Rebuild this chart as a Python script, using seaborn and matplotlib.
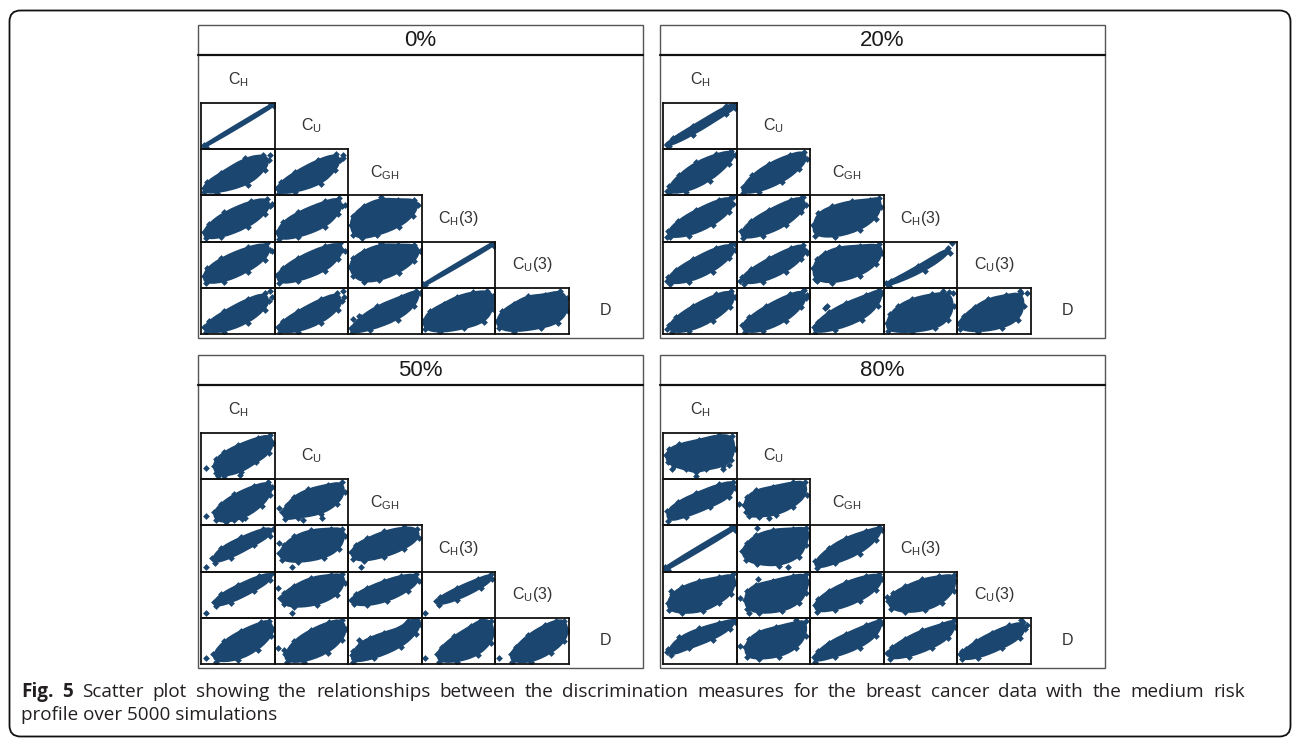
import matplotlib
matplotlib.use("Agg")
import matplotlib.pyplot as plt
import seaborn as sns
from matplotlib.patches import FancyBboxPatch, Rectangle, PathPatch
from matplotlib.path import Path

# ---------------------------------------------------------------------------
# Data: discrimination measures compared pairwise, one scatter matrix per
# censoring level.  Each point cloud of 5000 simulations is stored as the
# outline of its dense core (normalised to the panel's data range) plus the
# isolated points lying outside that core.
# ---------------------------------------------------------------------------
PANELS = ["0%", "20%", "50%", "80%"]
MEASURES = [r"$\mathregular{C_H}$", r"$\mathregular{C_U}$", r"$\mathregular{C_{GH}}$",
            r"$\mathregular{C_H(3)}$", r"$\mathregular{C_U(3)}$", "D"]

hull_0 = {
    (1, 0): [(0.03, 0.06), (0.06, 0.05), (0.99, 0.93), (0.98, 0.98), (0.95, 0.97), (0.03, 0.09)],
    (2, 0): [(0.03, 0.16), (0.04, 0.07), (0.22, 0.06), (0.63, 0.23), (0.86, 0.54), (0.92, 0.76), (0.84, 0.88), (0.59, 0.80), (0.27, 0.49), (0.08, 0.29)],
    (2, 1): [(0.03, 0.15), (0.06, 0.05), (0.27, 0.07), (0.63, 0.25), (0.82, 0.54), (0.89, 0.76), (0.83, 0.89), (0.59, 0.77), (0.27, 0.50), (0.08, 0.28)],
    (3, 0): [(0.03, 0.21), (0.06, 0.07), (0.27, 0.09), (0.63, 0.31), (0.86, 0.59), (0.93, 0.78), (0.89, 0.93), (0.68, 0.88), (0.31, 0.63), (0.11, 0.39)],
    (3, 1): [(0.03, 0.21), (0.06, 0.05), (0.31, 0.09), (0.68, 0.31), (0.86, 0.59), (0.91, 0.78), (0.87, 0.94), (0.68, 0.87), (0.31, 0.63), (0.11, 0.42)],
    (3, 2): [(0.03, 0.36), (0.07, 0.15), (0.19, 0.07), (0.39, 0.14), (0.69, 0.32), (0.88, 0.56), (0.95, 0.80), (0.90, 0.91), (0.67, 0.91), (0.44, 0.93), (0.21, 0.78), (0.06, 0.56)],
    (4, 0): [(0.03, 0.25), (0.06, 0.10), (0.31, 0.13), (0.63, 0.35), (0.86, 0.61), (0.93, 0.81), (0.89, 0.96), (0.63, 0.88), (0.27, 0.64), (0.08, 0.42)],
    (4, 1): [(0.03, 0.28), (0.06, 0.10), (0.31, 0.14), (0.68, 0.36), (0.86, 0.62), (0.92, 0.81), (0.89, 0.96), (0.68, 0.91), (0.31, 0.65), (0.11, 0.43)],
    (4, 2): [(0.02, 0.45), (0.07, 0.25), (0.21, 0.13), (0.42, 0.16), (0.69, 0.33), (0.90, 0.58), (0.97, 0.80), (0.90, 0.93), (0.67, 0.93), (0.44, 0.94), (0.21, 0.80), (0.06, 0.64)],
    (4, 3): [(0.02, 0.06), (0.05, 0.05), (0.98, 0.91), (0.98, 0.97), (0.95, 0.97), (0.02, 0.09)],
    (5, 0): [(0.04, 0.15), (0.07, 0.04), (0.31, 0.05), (0.63, 0.24), (0.86, 0.53), (0.92, 0.72), (0.86, 0.88), (0.63, 0.76), (0.31, 0.49), (0.11, 0.28)],
    (5, 1): [(0.04, 0.15), (0.07, 0.04), (0.31, 0.05), (0.63, 0.24), (0.86, 0.53), (0.91, 0.72), (0.85, 0.88), (0.63, 0.76), (0.31, 0.49), (0.11, 0.28)],
    (5, 2): [(0.03, 0.13), (0.05, 0.02), (0.30, 0.09), (0.67, 0.31), (0.90, 0.60), (0.97, 0.88), (0.92, 0.94), (0.72, 0.81), (0.39, 0.60), (0.17, 0.37)],
    (5, 3): [(0.02, 0.29), (0.05, 0.10), (0.25, 0.04), (0.57, 0.12), (0.85, 0.26), (0.97, 0.54), (0.97, 0.83), (0.89, 0.93), (0.69, 0.90), (0.48, 0.81), (0.30, 0.66), (0.11, 0.50)],
    (5, 4): [(0.02, 0.29), (0.05, 0.12), (0.25, 0.05), (0.62, 0.13), (0.85, 0.24), (0.99, 0.50), (0.97, 0.79), (0.88, 0.93), (0.67, 0.85), (0.44, 0.82), (0.25, 0.66), (0.09, 0.49)],
}
stray_0 = {
    (2, 0): [(0.93, 0.87)],
    (2, 1): [(0.93, 0.88), (0.93, 0.81)],
    (3, 0): [(0.96, 0.81)],
    (3, 1): [(0.96, 0.80)],
    (3, 2): [(0.45, 0.97)],
    (4, 0): [(0.96, 0.80)],
    (4, 1): [(0.95, 0.80)],
    (4, 2): [(0.45, 0.97)],
    (5, 0): [(0.94, 0.93), (0.96, 0.81)],
    (5, 1): [(0.93, 0.93), (0.94, 0.81)],
    (5, 2): [(0.07, 0.32), (0.15, 0.38)],
}

hull_20 = {
    (1, 0): [(0.05, 0.12), (0.08, 0.07), (0.40, 0.31), (0.85, 0.76), (0.98, 0.90), (0.97, 0.98), (0.85, 0.93), (0.40, 0.50), (0.13, 0.24)],
    (2, 0): [(0.08, 0.20), (0.08, 0.05), (0.31, 0.08), (0.63, 0.31), (0.90, 0.69), (0.97, 0.88), (0.92, 0.96), (0.72, 0.89), (0.45, 0.72), (0.22, 0.45)],
    (2, 1): [(0.08, 0.18), (0.08, 0.05), (0.30, 0.08), (0.62, 0.29), (0.85, 0.57), (0.95, 0.78), (0.91, 0.95), (0.72, 0.88), (0.44, 0.69), (0.21, 0.44)],
    (3, 0): [(0.06, 0.22), (0.09, 0.09), (0.35, 0.13), (0.67, 0.35), (0.90, 0.64), (0.95, 0.82), (0.91, 0.95), (0.76, 0.91), (0.45, 0.69), (0.20, 0.45)],
    (3, 1): [(0.06, 0.22), (0.08, 0.07), (0.35, 0.13), (0.67, 0.35), (0.88, 0.64), (0.94, 0.80), (0.88, 0.95), (0.74, 0.91), (0.44, 0.69), (0.19, 0.45)],
    (3, 2): [(0.04, 0.36), (0.06, 0.13), (0.34, 0.10), (0.67, 0.25), (0.89, 0.50), (0.96, 0.74), (0.94, 0.95), (0.81, 0.91), (0.57, 0.88), (0.30, 0.77), (0.11, 0.62)],
    (4, 0): [(0.07, 0.23), (0.09, 0.09), (0.35, 0.13), (0.67, 0.35), (0.90, 0.64), (0.97, 0.81), (0.92, 0.94), (0.72, 0.87), (0.40, 0.62), (0.17, 0.39)],
    (4, 1): [(0.07, 0.23), (0.10, 0.09), (0.35, 0.13), (0.67, 0.35), (0.88, 0.62), (0.94, 0.80), (0.90, 0.93), (0.74, 0.87), (0.44, 0.64), (0.19, 0.40)],
    (4, 2): [(0.04, 0.42), (0.06, 0.18), (0.30, 0.10), (0.67, 0.26), (0.90, 0.51), (0.98, 0.76), (0.94, 0.94), (0.67, 0.91), (0.39, 0.88), (0.20, 0.76), (0.09, 0.62)],
    (4, 3): [(0.03, 0.10), (0.07, 0.04), (0.56, 0.37), (0.90, 0.76), (0.88, 0.87), (0.47, 0.47), (0.10, 0.15)],
    (5, 0): [(0.08, 0.19), (0.12, 0.04), (0.35, 0.06), (0.67, 0.28), (0.91, 0.58), (0.97, 0.80), (0.92, 0.93), (0.72, 0.86), (0.40, 0.61), (0.17, 0.36)],
    (5, 1): [(0.07, 0.19), (0.11, 0.04), (0.35, 0.06), (0.67, 0.28), (0.88, 0.58), (0.94, 0.79), (0.90, 0.93), (0.72, 0.86), (0.40, 0.61), (0.17, 0.36)],
    (5, 2): [(0.05, 0.15), (0.06, 0.03), (0.34, 0.09), (0.71, 0.31), (0.92, 0.61), (0.98, 0.89), (0.94, 0.96), (0.76, 0.84), (0.48, 0.67), (0.25, 0.47), (0.10, 0.27)],
    (5, 3): [(0.04, 0.24), (0.06, 0.06), (0.38, 0.04), (0.70, 0.12), (0.88, 0.31), (0.95, 0.61), (0.89, 0.90), (0.65, 0.86), (0.38, 0.76), (0.20, 0.61), (0.09, 0.43)],
    (5, 4): [(0.02, 0.24), (0.04, 0.10), (0.28, 0.05), (0.61, 0.13), (0.83, 0.31), (0.91, 0.61), (0.87, 0.89), (0.66, 0.84), (0.42, 0.76), (0.24, 0.59), (0.09, 0.39)],
}
stray_20 = {
    (1, 0): [(0.05, 0.09)],
    (2, 0): [(0.05, 0.10)],
    (3, 0): [(0.95, 0.96), (0.05, 0.11)],
    (3, 1): [(0.90, 0.97)],
    (4, 0): [(0.05, 0.14), (0.98, 0.95)],
    (4, 1): [(0.05, 0.14), (0.95, 0.76)],
    (4, 2): [(0.09, 0.14)],
    (4, 3): [(0.93, 0.96)],
    (5, 0): [(0.05, 0.10)],
    (5, 1): [(0.95, 0.85), (0.92, 0.95)],
    (5, 2): [(0.20, 0.56), (0.23, 0.61)],
    (5, 3): [(0.81, 0.93), (0.94, 0.89)],
    (5, 4): [(0.85, 0.93), (0.95, 0.89)],
}

hull_50 = {
    (1, 0): [(0.17, 0.28), (0.20, 0.13), (0.31, 0.07), (0.54, 0.16), (0.75, 0.37), (0.92, 0.56), (0.98, 0.78), (0.93, 0.95), (0.77, 0.90), (0.50, 0.74), (0.31, 0.58), (0.20, 0.43)],
    (2, 0): [(0.17, 0.28), (0.20, 0.12), (0.33, 0.07), (0.59, 0.17), (0.82, 0.42), (0.93, 0.65), (0.96, 0.83), (0.91, 0.93), (0.72, 0.86), (0.45, 0.67), (0.27, 0.47)],
    (2, 1): [(0.10, 0.30), (0.14, 0.13), (0.31, 0.17), (0.63, 0.25), (0.85, 0.46), (0.95, 0.72), (0.91, 0.93), (0.72, 0.88), (0.45, 0.78), (0.26, 0.62), (0.17, 0.45)],
    (3, 0): [(0.15, 0.29), (0.18, 0.19), (0.40, 0.30), (0.72, 0.57), (0.93, 0.78), (0.97, 0.93), (0.84, 0.93), (0.54, 0.74), (0.27, 0.52)],
    (3, 1): [(0.06, 0.40), (0.10, 0.25), (0.31, 0.20), (0.67, 0.29), (0.88, 0.49), (0.95, 0.76), (0.92, 0.93), (0.76, 0.93), (0.49, 0.90), (0.26, 0.76), (0.13, 0.58)],
    (3, 2): [(0.04, 0.42), (0.07, 0.28), (0.21, 0.23), (0.49, 0.32), (0.76, 0.49), (0.96, 0.72), (0.94, 0.93), (0.76, 0.96), (0.49, 0.87), (0.26, 0.72), (0.10, 0.58)],
    (4, 0): [(0.17, 0.35), (0.20, 0.25), (0.40, 0.33), (0.72, 0.58), (0.94, 0.81), (0.96, 0.96), (0.79, 0.91), (0.50, 0.71), (0.27, 0.51)],
    (4, 1): [(0.07, 0.42), (0.12, 0.30), (0.26, 0.23), (0.58, 0.28), (0.85, 0.49), (0.95, 0.76), (0.92, 0.94), (0.76, 0.93), (0.49, 0.87), (0.26, 0.69), (0.13, 0.54)],
    (4, 2): [(0.04, 0.39), (0.08, 0.29), (0.26, 0.27), (0.53, 0.36), (0.81, 0.58), (0.96, 0.80), (0.92, 0.94), (0.72, 0.91), (0.49, 0.80), (0.26, 0.65), (0.10, 0.51)],
    (4, 3): [(0.19, 0.36), (0.23, 0.28), (0.48, 0.39), (0.81, 0.65), (0.96, 0.84), (0.94, 0.94), (0.76, 0.84), (0.48, 0.65), (0.25, 0.45)],
    (5, 0): [(0.16, 0.21), (0.20, 0.05), (0.50, 0.09), (0.77, 0.31), (0.95, 0.60), (0.98, 0.76), (0.92, 0.94), (0.81, 0.90), (0.54, 0.72), (0.31, 0.50)],
    (5, 1): [(0.14, 0.22), (0.16, 0.05), (0.40, 0.05), (0.72, 0.24), (0.92, 0.53), (0.97, 0.75), (0.91, 0.96), (0.74, 0.91), (0.49, 0.74), (0.26, 0.50)],
    (5, 2): [(0.05, 0.19), (0.06, 0.04), (0.35, 0.12), (0.72, 0.37), (0.92, 0.66), (0.98, 0.87), (0.94, 0.96), (0.81, 0.94), (0.72, 0.79), (0.49, 0.68), (0.30, 0.57), (0.17, 0.46), (0.07, 0.28)],
    (5, 3): [(0.21, 0.22), (0.24, 0.05), (0.48, 0.05), (0.76, 0.19), (0.94, 0.46), (0.98, 0.68), (0.94, 0.93), (0.81, 0.96), (0.67, 0.82), (0.44, 0.60), (0.27, 0.37)],
    (5, 4): [(0.21, 0.22), (0.23, 0.05), (0.48, 0.04), (0.76, 0.24), (0.94, 0.49), (0.99, 0.72), (0.94, 0.94), (0.83, 0.94), (0.67, 0.84), (0.44, 0.62), (0.28, 0.37)],
}
stray_50 = {
    (1, 0): [(0.06, 0.24), (0.23, 0.06), (0.53, 0.09)],
    (2, 0): [(0.06, 0.20), (0.45, 0.11), (0.56, 0.13)],
    (2, 1): [(0.06, 0.38), (0.39, 0.12), (0.64, 0.16)],
    (3, 0): [(0.06, 0.11)],
    (3, 1): [(0.06, 0.62), (0.24, 0.10)],
    (3, 2): [(0.17, 0.10)],
    (4, 0): [(0.06, 0.11)],
    (4, 1): [(0.05, 0.65), (0.24, 0.11)],
    (4, 3): [(0.04, 0.11)],
    (5, 0): [(0.06, 0.13)],
    (5, 1): [(0.05, 0.34), (0.13, 0.31)],
    (5, 2): [(0.15, 0.53)],
    (5, 3): [(0.04, 0.12)],
    (5, 4): [(0.05, 0.13)],
}

hull_80 = {
    (1, 0): [(0.04, 0.52), (0.06, 0.37), (0.15, 0.28), (0.31, 0.21), (0.44, 0.15), (0.58, 0.21), (0.81, 0.28), (0.92, 0.41), (0.97, 0.65), (0.94, 0.93), (0.76, 0.96), (0.49, 0.85), (0.22, 0.76), (0.08, 0.65)],
    (2, 0): [(0.05, 0.31), (0.07, 0.09), (0.31, 0.19), (0.63, 0.39), (0.90, 0.61), (0.97, 0.82), (0.95, 0.95), (0.76, 0.89), (0.45, 0.70), (0.20, 0.51)],
    (2, 1): [(0.10, 0.45), (0.16, 0.20), (0.30, 0.19), (0.53, 0.23), (0.76, 0.39), (0.95, 0.66), (0.93, 0.95), (0.76, 0.93), (0.49, 0.84), (0.26, 0.76), (0.14, 0.62)],
    (3, 0): [(0.02, 0.05), (0.06, 0.04), (0.98, 0.91), (0.98, 0.98), (0.94, 0.98), (0.02, 0.10)],
    (3, 1): [(0.07, 0.44), (0.12, 0.26), (0.28, 0.16), (0.58, 0.13), (0.85, 0.31), (0.94, 0.58), (0.98, 0.80), (0.94, 0.95), (0.76, 0.93), (0.49, 0.91), (0.26, 0.79), (0.14, 0.62)],
    (3, 2): [(0.06, 0.22), (0.09, 0.07), (0.34, 0.18), (0.67, 0.39), (0.90, 0.69), (0.97, 0.91), (0.94, 0.96), (0.76, 0.88), (0.48, 0.73), (0.25, 0.51)],
    (4, 0): [(0.06, 0.33), (0.08, 0.17), (0.26, 0.10), (0.54, 0.14), (0.76, 0.32), (0.92, 0.51), (0.98, 0.76), (0.95, 0.94), (0.76, 0.88), (0.49, 0.80), (0.26, 0.67), (0.12, 0.52)],
    (4, 1): [(0.11, 0.39), (0.14, 0.20), (0.30, 0.10), (0.62, 0.14), (0.85, 0.32), (0.94, 0.54), (0.97, 0.78), (0.94, 0.94), (0.76, 0.91), (0.49, 0.80), (0.26, 0.72), (0.14, 0.58)],
    (4, 2): [(0.06, 0.28), (0.09, 0.13), (0.34, 0.17), (0.67, 0.36), (0.90, 0.61), (0.98, 0.83), (0.94, 0.94), (0.76, 0.91), (0.48, 0.77), (0.25, 0.58), (0.11, 0.41)],
    (4, 3): [(0.06, 0.36), (0.10, 0.20), (0.29, 0.12), (0.56, 0.16), (0.79, 0.32), (0.95, 0.58), (0.97, 0.80), (0.95, 0.93), (0.75, 0.90), (0.52, 0.83), (0.29, 0.68), (0.13, 0.54)],
    (5, 0): [(0.07, 0.32), (0.11, 0.19), (0.35, 0.34), (0.67, 0.53), (0.91, 0.76), (0.97, 0.91), (0.95, 0.96), (0.76, 0.89), (0.49, 0.77), (0.22, 0.58)],
    (5, 1): [(0.11, 0.36), (0.14, 0.16), (0.30, 0.11), (0.58, 0.16), (0.81, 0.34), (0.94, 0.61), (0.94, 0.93), (0.81, 0.91), (0.53, 0.80), (0.30, 0.70), (0.17, 0.55)],
    (5, 2): [(0.05, 0.16), (0.07, 0.05), (0.34, 0.16), (0.67, 0.35), (0.90, 0.61), (0.98, 0.89), (0.94, 0.95), (0.76, 0.84), (0.48, 0.65), (0.25, 0.46), (0.11, 0.28)],
    (5, 3): [(0.05, 0.24), (0.09, 0.11), (0.34, 0.16), (0.65, 0.34), (0.88, 0.56), (0.97, 0.80), (0.95, 0.95), (0.79, 0.86), (0.52, 0.73), (0.29, 0.55), (0.11, 0.36)],
    (5, 4): [(0.04, 0.21), (0.06, 0.10), (0.28, 0.13), (0.61, 0.34), (0.85, 0.56), (0.92, 0.76), (0.89, 0.90), (0.71, 0.84), (0.47, 0.68), (0.26, 0.50), (0.12, 0.33)],
}
stray_80 = {
    (1, 0): [(0.12, 0.22), (0.81, 0.22), (0.89, 0.31), (0.45, 0.06)],
    (2, 1): [(0.03, 0.47), (0.13, 0.29), (0.44, 0.15)],
    (3, 1): [(0.27, 0.95), (0.17, 0.31), (0.69, 0.10)],
    (4, 0): [(0.10, 0.58)],
    (4, 1): [(0.05, 0.43), (0.29, 0.85), (0.17, 0.10)],
    (4, 3): [(0.05, 0.45)],
    (5, 0): [(0.05, 0.27)],
    (5, 1): [(0.05, 0.39), (0.29, 0.62), (0.81, 0.95)],
    (5, 4): [(0.87, 0.95), (0.95, 0.84), (0.07, 0.28)],
}

CAPTION_LINE1 = ("Scatter plot showing the relationships between the discrimination measures "
                 "for the breast cancer data with the medium risk")
CAPTION_LINE2 = "profile over 5000 simulations"

# ---------------------------------------------------------------------------
# Layout (pixels of a 1293 x 739 canvas)
# ---------------------------------------------------------------------------
FIG_W, FIG_H = 1293, 739
ORIGINS = [(198, 25), (660, 25), (198, 355), (660, 355)]
PANEL_W, PANEL_H, HEAD_H = 445, 313, 30
GRID_DX, GRID_DY = 3.3, 31.8
CELL_W, CELL_H = 73.5, 46.2
DOT = "#1b4670"

sns.set_theme(style="white")
plt.rcParams["font.family"] = ["Liberation Sans", "DejaVu Sans"]

fig = plt.figure(figsize=(FIG_W / 100, FIG_H / 100), dpi=100)
fig.patch.set_facecolor("white")

canvas = fig.add_axes([0, 0, 1, 1])
canvas.set_xlim(0, FIG_W)
canvas.set_ylim(FIG_H, 0)
canvas.axis("off")

# rounded outer frame
canvas.add_patch(FancyBboxPatch((9.5, 10.5), 1281, 726,
                                boxstyle="round,pad=0,rounding_size=11",
                                fc="none", ec="#111111", lw=1.3))


def px_axes(x, y, w, h):
    return fig.add_axes([x / FIG_W, 1 - (y + h) / FIG_H, w / FIG_W, h / FIG_H])


def cloud_path(hull):
    """Closed smooth outline: quadratic segments between edge midpoints,
    with the outline vertices acting as control points."""
    n = len(hull)
    mids = [((hull[k][0] + hull[(k + 1) % n][0]) / 2, (hull[k][1] + hull[(k + 1) % n][1]) / 2)
            for k in range(n)]
    verts = [mids[-1]]
    codes = [Path.MOVETO]
    for k in range(n):
        verts += [hull[k], mids[k]]
        codes += [Path.CURVE3, Path.CURVE3]
    return Path(verts, codes)


panel_data = [(hull_0, stray_0), (hull_20, stray_20), (hull_50, stray_50), (hull_80, stray_80)]

for name, (ox, oy), (hulls, strays) in zip(PANELS, ORIGINS, panel_data):
    # strip and panel outline
    canvas.add_patch(Rectangle((ox, oy), PANEL_W, PANEL_H, fc="white", ec="#555555", lw=1.0))
    canvas.plot([ox, ox + PANEL_W], [oy + HEAD_H, oy + HEAD_H], color="#111111", lw=1.6)
    canvas.text(ox + PANEL_W / 2, oy + HEAD_H / 2 + 0.5, name, ha="center", va="center",
                fontsize=16, color="#1a1a1a")

    # measure names on the diagonal
    for k, lab in enumerate(MEASURES):
        cx = ox + GRID_DX + CELL_W * (k + 0.5)
        cy = oy + GRID_DY + CELL_H * (k + 0.5)
        canvas.text(cx, cy, lab, ha="center", va="center", fontsize=11.5, color="#333333")

    # lower-triangle scatter cells
    for (i, j), hull in hulls.items():
        ax = px_axes(ox + GRID_DX + CELL_W * j, oy + GRID_DY + CELL_H * i, CELL_W, CELL_H)
        ax.set_facecolor("none")
        ax.add_patch(PathPatch(cloud_path(hull), fc=DOT, ec=DOT, lw=1.8, joinstyle="round"))
        # extreme points of the cloud and isolated points
        pts = hull + strays.get((i, j), [])
        sns.scatterplot(x=[p[0] for p in pts], y=[p[1] for p in pts], ax=ax,
                        marker="D", s=12, color=DOT, linewidth=0)
        ax.set_xlim(0, 1)
        ax.set_ylim(0, 1)
        ax.set_xticks([])
        ax.set_yticks([])
        ax.set_xlabel("")
        ax.set_ylabel("")
        for sp in ax.spines.values():
            sp.set_visible(True)
            sp.set_color("#111111")
            sp.set_linewidth(1.3)

# caption, first line fully justified
renderer = fig.canvas.get_renderer()
cap_font = ["Open Sans", "DejaVu Sans"]
tokens = [("Fig.", "bold"), ("5", "bold")] + [(w, "normal") for w in CAPTION_LINE1.split()]
texts = []
for word, weight in tokens:
    t = canvas.text(0, 697, word, fontsize=13.6, fontweight=weight, family=cap_font,
                    color="#231f20", ha="left", va="baseline")
    texts.append(t)
widths = [t.get_window_extent(renderer).width for t in texts]
x_start, x_end = 21, 1245
gap = (x_end - x_start - sum(widths)) / (len(texts) - 1)
x = x_start
for t, w in zip(texts, widths):
    t.set_x(x)
    x += w + gap
canvas.text(x_start, 720, CAPTION_LINE2, fontsize=13.6, family=cap_font,
            color="#231f20", ha="left", va="baseline")

fig.savefig("out.png", dpi=100)
